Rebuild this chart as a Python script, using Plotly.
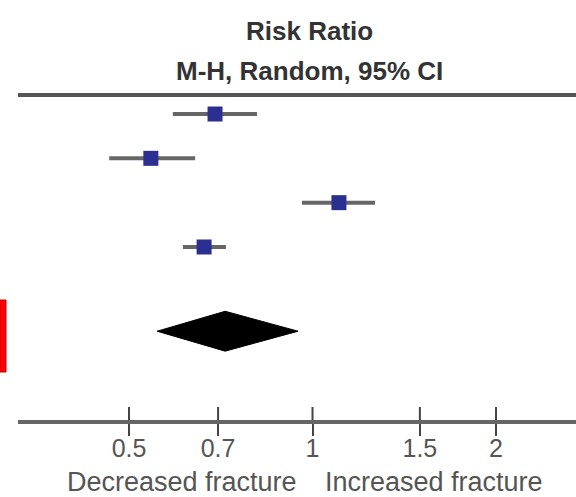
import plotly.graph_objects as go
import numpy as np

# Data
studies = ["Study 1", "Study 2", "Study 3", "Study 4"]
risk_ratio = [0.692, 0.543, 1.105, 0.664]
ci_low = [0.590, 0.464, 0.961, 0.613]
ci_high = [0.811, 0.642, 1.266, 0.721]
pooled_rr = 0.719
pooled_low = 0.556
pooled_high = 0.947
tick_vals = [0.5, 0.7, 1, 1.5, 2]
tick_text = ["0.5", "0.7", "1", "1.5", "2"]

row_pos = [1, 2, 3, 4]
pooled_pos = 5.9
y_range = [7.903, 0.571]

FONT = "Liberation Sans, Arial, sans-serif"
LINE = "#666666"

fig = go.Figure()

# CI lines
for y, lo, hi in zip(row_pos, ci_low, ci_high):
    fig.add_trace(go.Scatter(x=[lo, hi], y=[y, y], mode="lines",
                             line=dict(color=LINE, width=4), showlegend=False,
                             hoverinfo="skip"))
# Point estimates
fig.add_trace(go.Scatter(x=risk_ratio, y=row_pos, mode="markers",
                         marker=dict(symbol="square", size=15, color="#2b2f8f",
                                     line=dict(width=0)),
                         showlegend=False, text=studies))
# Pooled diamond
dh = 0.45
fig.add_trace(go.Scatter(
    x=[pooled_low, pooled_rr, pooled_high, pooled_rr, pooled_low],
    y=[pooled_pos, pooled_pos - dh, pooled_pos, pooled_pos + dh, pooled_pos],
    mode="lines", fill="toself", fillcolor="#000000",
    line=dict(color="#000000", width=1), showlegend=False))

# upper half of the crossing tick marks (above the axis line)
tick_up = 13 / 44.33
tx, ty = [], []
for tv in tick_vals:
    tx += [tv, tv, None]
    ty += [y_range[0], y_range[0] - tick_up, None]
fig.add_trace(go.Scatter(x=tx, y=ty, mode="lines", line=dict(color="#444444", width=2),
                         showlegend=False, hoverinfo="skip", cliponaxis=False))

shapes = []
# vertical line of no effect
shapes.append(dict(type="line", xref="x", yref="paper", x0=0, x1=0, y0=0, y1=1,
                   line=dict(color=LINE, width=3), layer="below"))
# top border line
shapes.append(dict(type="line", xref="paper", yref="paper", x0=0, x1=1, y0=1, y1=1,
                   line=dict(color="#555555", width=4)))
# red bar at the left edge
shapes.append(dict(type="rect", xref="paper", yref="paper",
                   x0=-18 / 558, x1=-12 / 558, y0=(420 - 372) / 325, y1=(420 - 300) / 325,
                   fillcolor="#ff0000", line=dict(color="#cc0000", width=1)))

annotations = [
    dict(text="<b>Risk Ratio</b>", xref="paper", yref="paper", x=0.523, y=1.197,
         showarrow=False, font=dict(family=FONT, size=26, color="#333333"),
         xanchor="center", yanchor="middle"),
    dict(text="<b>M-H, Random, 95% CI</b>", xref="paper", yref="paper", x=0.523, y=1.074,
         showarrow=False, font=dict(family=FONT, size=26, color="#333333"),
         xanchor="center", yanchor="middle"),
    dict(text="Decreased fracture", xref="paper", yref="paper", x=0.294, y=-0.19,
         showarrow=False, font=dict(family=FONT, size=27, color="#555555"),
         xanchor="center", yanchor="middle"),
    dict(text="Increased fracture", xref="paper", yref="paper", x=0.7455, y=-0.19,
         showarrow=False, font=dict(family=FONT, size=27, color="#555555"),
         xanchor="center", yanchor="middle"),
]

fig.update_layout(
    width=576, height=497,
    margin=dict(l=18, r=0, t=95, b=77),
    paper_bgcolor="white", plot_bgcolor="white",
    shapes=shapes, annotations=annotations,
    xaxis=dict(type="log", range=[-0.4831, 0.4322], tickvals=tick_vals, ticktext=tick_text,
               showgrid=False, zeroline=False, showline=True, linecolor=LINE, linewidth=4,
               ticks="outside", ticklen=12, tickwidth=2, tickcolor="#444444",
               ticklabelstandoff=-9,
               tickfont=dict(family=FONT, size=25, color="#555555")),
    yaxis=dict(range=y_range, showgrid=False, zeroline=False, showline=False,
               showticklabels=False, ticks=""),
)

fig.write_html("out.html", config={"displayModeBar": False},
               post_script="document.body.style.margin='0';")
